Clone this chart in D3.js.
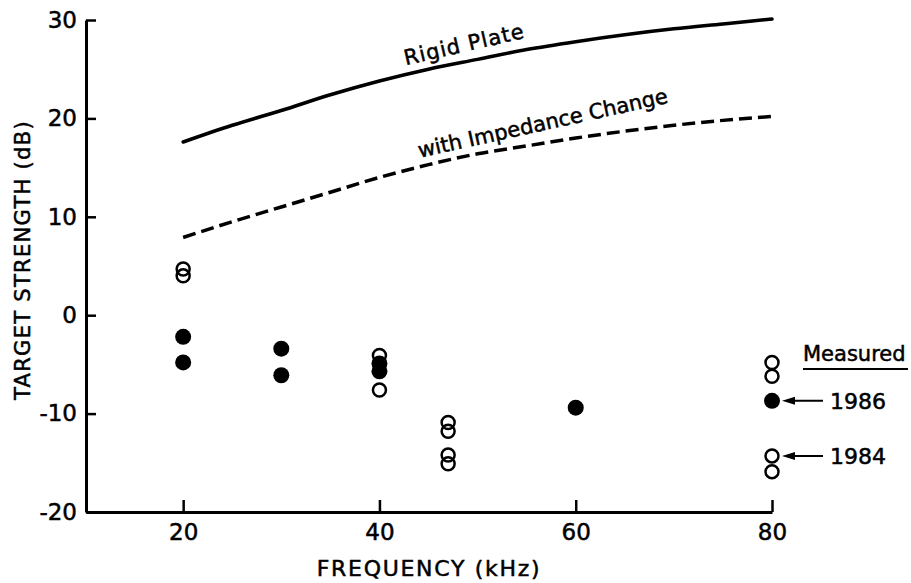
<!DOCTYPE html>
<html>
<head>
<meta charset="utf-8">
<script src="https://cdn.jsdelivr.net/npm/d3@7"></script>
<style>
  body { margin: 0; background: #fff; }
  svg text { font-family: "DejaVu Sans", sans-serif; fill: #000; stroke: #000; stroke-width: 0.5; }
</style>
</head>
<body>
<svg id="chart" width="911" height="583"></svg>
<script>
// curve data (frequency kHz, target strength dB)
const curveFreqs = [20, 25, 30, 35, 40, 45, 50, 55, 60, 65, 70, 75, 80]
const rigidPlate = [17.6, 19.3, 20.8, 22.4, 23.8, 25.0, 26.0, 27.0, 27.8, 28.5, 29.1, 29.6, 30.1]
const impedance = [7.9, 9.5, 11.0, 12.5, 14.0, 15.3, 16.4, 17.2, 18.0, 18.7, 19.3, 19.8, 20.2]

// measured points
const open1984Freq = [20, 20, 40, 40, 47, 47, 47, 47, 80, 80, 80, 80]
const open1984Val = [4.7, 4.0, -4.1, -7.6, -10.9, -11.8, -14.2, -15.1, -4.8, -6.2, -14.3, -15.9]
const filled1986Freq = [20, 20, 30, 30, 40, 40, 60, 80]
const filled1986Val = [-2.2, -4.8, -3.4, -6.1, -4.9, -5.7, -9.4, -8.7]

const xTicks = [20, 40, 60, 80]
const yTicks = [-20, -10, 0, 10, 20, 30]

const legendYears = ['1986', '1984']
const legendVals = [-8.7, -14.3]

const svg = d3.select('#chart')

const x = d3.scaleLinear().domain([10.1, 80]).range([86, 772])
const y = d3.scaleLinear().domain([-20, 30]).range([512, 20])

// axes
const xAxis = d3.axisBottom(x)
  .tickValues(xTicks)
  .tickSizeInner(-12)
  .tickSizeOuter(0)
  .tickPadding(12)
  .tickFormat(d3.format('d'))

const yAxis = d3.axisLeft(y)
  .tickValues(yTicks)
  .tickSizeInner(-10)
  .tickSizeOuter(0)
  .tickPadding(9)
  .tickFormat(d => d < 0 ? '-' + Math.abs(d) : d)

let gx = svg.append('g')
  .attr('transform', `translate(0, ${y(-20)})`)
  .call(xAxis)
let gy = svg.append('g')
  .attr('transform', `translate(${x(10.1)}, 0)`)
  .call(yAxis)

;[gx, gy].forEach(g => {
  g.select('.domain').attr('stroke', '#000').attr('stroke-width', 3)
  g.selectAll('.tick line').attr('stroke', '#000').attr('stroke-width', 2.5)
  g.selectAll('.tick text')
    .attr('font-size', 23)
    .attr('font-family', '"DejaVu Sans", sans-serif')
    .attr('fill', '#000')
})

// axis titles
svg.append('text')
  .attr('x', 429)
  .attr('y', 576)
  .attr('text-anchor', 'middle')
  .attr('font-size', 22)
  .attr('letter-spacing', 1.7)
  .text('FREQUENCY (kHz)')

svg.append('text')
  .attr('transform', 'translate(30, 260) rotate(-90)')
  .attr('text-anchor', 'middle')
  .attr('font-size', 21)
  .attr('letter-spacing', 1.3)
  .text('TARGET STRENGTH (dB)')

// curves
const line = d3.line()
  .x(d => x(d[0]))
  .y(d => y(d[1]))
  .curve(d3.curveMonotoneX)

svg.append('path')
  .datum(d3.zip(curveFreqs, rigidPlate))
  .attr('d', line)
  .attr('fill', 'none')
  .attr('stroke', '#000')
  .attr('stroke-width', 3.5)
  .attr('stroke-linecap', 'round')

svg.append('path')
  .datum(d3.zip(curveFreqs, impedance))
  .attr('d', line)
  .attr('fill', 'none')
  .attr('stroke', '#000')
  .attr('stroke-width', 3.5)
  .attr('stroke-dasharray', '13,6')

// curve labels
svg.append('text')
  .attr('transform', `translate(${x(48.8)}, ${y(26.8)}) rotate(-13)`)
  .attr('text-anchor', 'middle')
  .attr('font-size', 21)
  .attr('letter-spacing', 1)
  .text('Rigid Plate')

svg.append('text')
  .attr('transform', `translate(${x(56.8)}, ${y(18.8)}) rotate(-12.5)`)
  .attr('text-anchor', 'middle')
  .attr('font-size', 21)
  .text('with Impedance Change')

// points
svg.append('g').selectAll('circle')
  .data(d3.zip(open1984Freq, open1984Val))
  .join('circle')
  .attr('cx', d => x(d[0]))
  .attr('cy', d => y(d[1]))
  .attr('r', 6.5)
  .attr('fill', 'none')
  .attr('stroke', '#000')
  .attr('stroke-width', 2.5)

svg.append('g').selectAll('circle')
  .data(d3.zip(filled1986Freq, filled1986Val))
  .join('circle')
  .attr('cx', d => x(d[0]))
  .attr('cy', d => y(d[1]))
  .attr('r', 8)
  .attr('fill', '#000')

// legend annotations
svg.append('text')
  .attr('x', 803)
  .attr('y', 361)
  .attr('font-size', 21)
  .text('Measured')
svg.append('line')
  .attr('x1', 803).attr('x2', 908)
  .attr('y1', 369).attr('y2', 369)
  .attr('stroke', '#000').attr('stroke-width', 2)

legendYears.forEach((yr, i) => {
  let yy = y(legendVals[i])
  let tip = x(80) + 10
  svg.append('line')
    .attr('x1', tip + 8).attr('x2', 823)
    .attr('y1', yy).attr('y2', yy)
    .attr('stroke', '#000').attr('stroke-width', 2)
  svg.append('path')
    .attr('d', `M${tip},${yy} L${tip + 13},${yy - 4} L${tip + 13},${yy + 4} Z`)
    .attr('fill', '#000')
  svg.append('text')
    .attr('x', 830)
    .attr('y', yy + 8)
    .attr('font-size', 22)
    .text(yr)
})
</script>
</body>
</html>
